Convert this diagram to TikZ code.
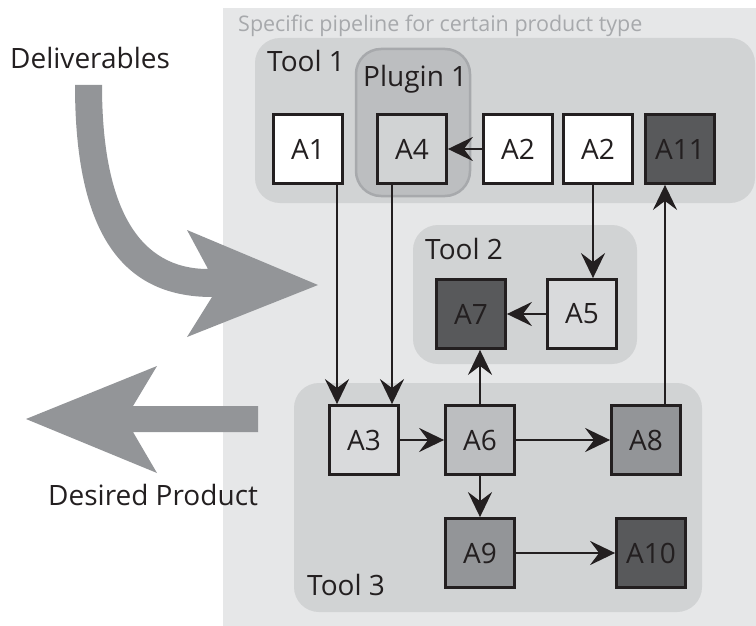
\documentclass[tikz,border=0pt]{standalone}
\usepackage{fontspec}
\setmainfont{Open Sans}
\usetikzlibrary{arrows.meta}
\definecolor{bgout}{HTML}{E6E7E8}
\definecolor{toolbg}{HTML}{D1D3D4}
\definecolor{plugbg}{HTML}{BCBEC0}
\definecolor{plugline}{HTML}{A7A9AC}
\definecolor{ink}{HTML}{231F20}
\definecolor{lightbox}{HTML}{D9DADC}
\definecolor{midbox}{HTML}{BCBEC0}
\definecolor{greybox}{HTML}{939598}
\definecolor{darkbox}{HTML}{58595B}
\definecolor{bigarrow}{HTML}{939598}
\definecolor{titlegrey}{HTML}{A7A9AC}
\tikzset{
  abox/.style={draw=ink, line width=2.8pt, minimum size=69pt, inner sep=0pt,
    text=ink, font=\fontsize{28}{32}\selectfont},
  container/.style={fill=toolbg, rounded corners=25pt},
  lbl/.style={anchor=base west, text=ink, inner sep=0pt, font=\fontsize{28}{32}\selectfont},
  conn/.style={draw=ink, line width=2.8pt, -{Stealth[length=25pt,width=24pt,inset=9pt]}},
}
\begin{document}
\begin{tikzpicture}[x=1pt,y=-1pt]
\useasboundingbox (0,0) rectangle (756,626);
% outer pipeline area
\fill[bgout] (223,8) rectangle (756,626);
\node[anchor=base west, text=titlegrey, inner sep=0pt, font=\fontsize{21.5}{24}\selectfont] (title) at (238,32) {Specific pipeline for certain product type};
% containers
\fill[container] (255,38) rectangle (755,203);
\filldraw[fill=plugbg, draw=plugline, line width=2.5pt, rounded corners=25pt] (356,49) rectangle (470,196);
\fill[container] (413,225) rectangle (637,364);
\fill[container] (294,383) rectangle (702,612);
\node[lbl] (t1) at (267,72) {Tool 1};
\node[lbl] (p1) at (363,87) {Plugin 1};
\node[lbl] (t2) at (425,259) {Tool 2};
\node[lbl] (t3) at (307,595) {Tool 3};
% side labels
\node[lbl] (deliv) at (10,69) {Deliverables};
\node[lbl] (desired) at (48,505) {Desired Product};
% big grey arrows
\fill[bigarrow] (75,85) .. controls (75,230) and (120,297) .. (212,297)
  -- (187,337) -- (318,285) -- (187,230) -- (208,269)
  .. controls (140,269) and (102,210) .. (102,85) -- cycle;
\fill[bigarrow] (258,406) -- (133,406) -- (157,366) -- (26,419) -- (157,473)
  -- (133,432) -- (258,432) -- cycle;
% boxes
\node[abox, fill=white] (A1) at (308,149) {A1};
\node[abox, fill=toolbg] (A4) at (412,149) {A4};
\node[abox, fill=white] (A2a) at (518,149) {A2};
\node[abox, fill=white] (A2b) at (598,149) {A2};
\node[abox, fill=darkbox] (A11) at (680,149) {A11};
\node[abox, fill=darkbox] (A7) at (471,314) {A7};
\node[abox, fill=lightbox] (A5) at (582,314) {A5};
\node[abox, fill=lightbox] (A3) at (364,440) {A3};
\node[abox, fill=midbox] (A6) at (480,440) {A6};
\node[abox, fill=greybox] (A8) at (646,440) {A8};
\node[abox, fill=greybox] (A9) at (480,553) {A9};
\node[abox, fill=darkbox] (A10) at (651,553) {A10};
% connectors
\draw[conn] (A2a) -- (A4);
\draw[conn] ([xshift=29pt]A1.south) -- ([xshift=29pt]A1.south |- A3.north);
\draw[conn] ([xshift=-20pt]A4.south) -- ([xshift=-20pt]A4.south |- A3.north);
\draw[conn] ([xshift=-5pt]A2b.south) -- ([xshift=-5pt]A2b.south |- A5.north);
\draw[conn] (A5) -- (A7);
\draw[conn] (A6.north) -- (A6.north |- A7.south);
\draw[conn] ([xshift=19pt]A8.north) -- ([xshift=19pt]A8.north |- A11.south);
\draw[conn] (A3) -- (A6);
\draw[conn] (A6) -- (A8);
\draw[conn] (A6) -- (A9);
\draw[conn] (A9) -- (A10);
\end{tikzpicture}
\end{document}
